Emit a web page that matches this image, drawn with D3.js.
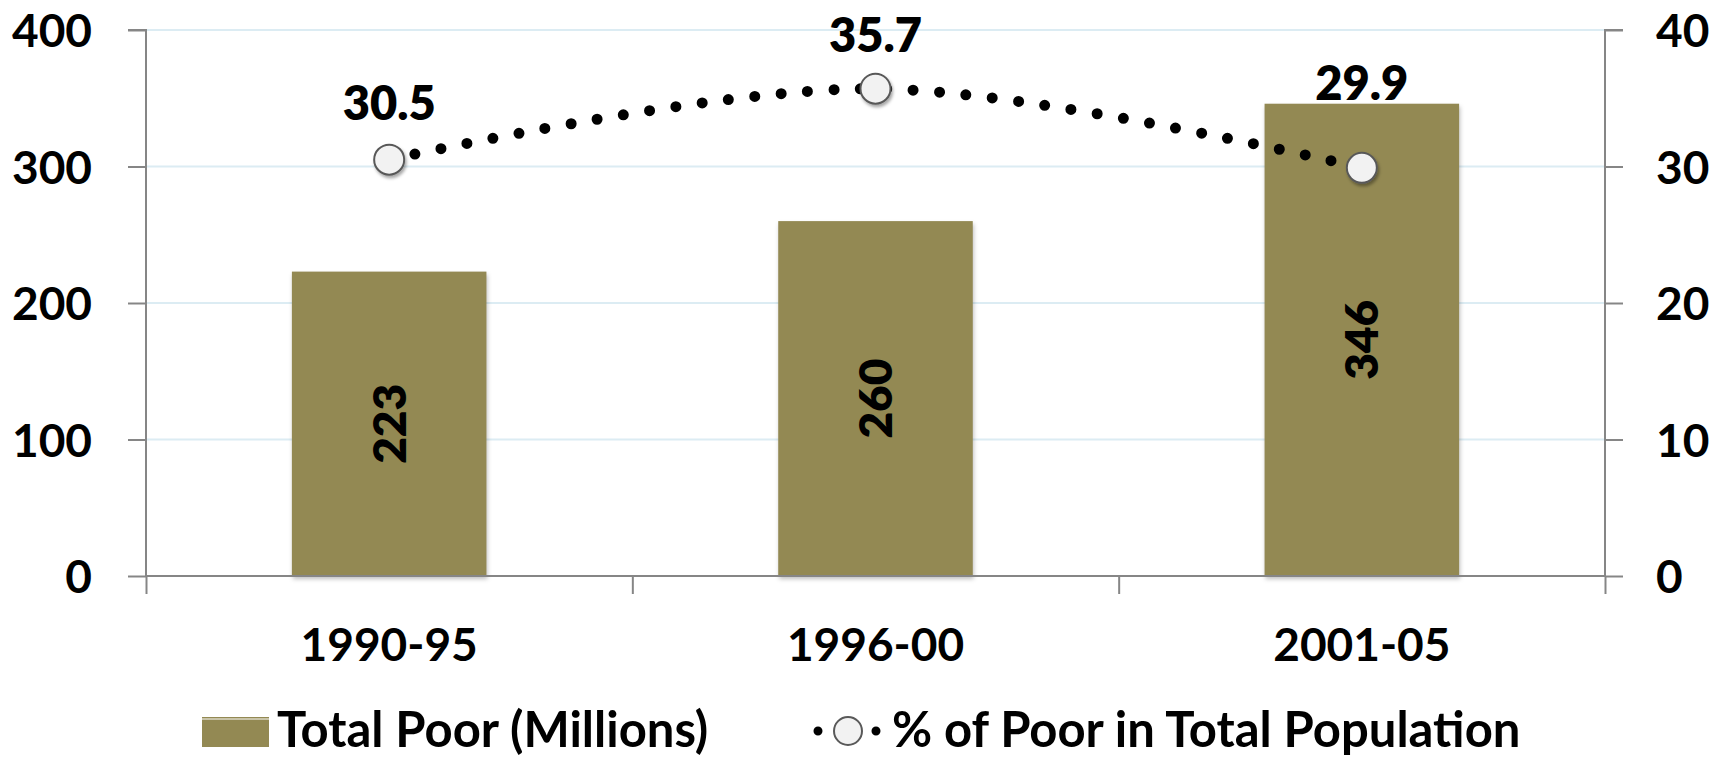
<!DOCTYPE html>
<html>
<head>
<meta charset="utf-8">
<script src="https://cdn.jsdelivr.net/npm/d3@7"></script>
<style>
  body { margin: 0; background: #fff; }
  text { font-family: Lato, "Open Sans", sans-serif; font-weight: 700; fill: #000; }
</style>
</head>
<body>
<svg id="chart" width="1722" height="758"></svg>
<script>
const periods = ["1990-95", "1996-00", "2001-05"];
const totalPoor = [223, 260, 346];
const pctPoor = [30.5, 35.7, 29.9];
const leftTicks = [0, 100, 200, 300, 400];
const rightTicks = [0, 10, 20, 30, 40];

const margin = {top: 30, right: 117, bottom: 182, left: 146},
    width = 1722 - margin.left - margin.right,
    height = 758 - margin.top - margin.bottom;

const svg = d3.select("#chart");

const defs = svg.append("defs");
const sh = defs.append("filter").attr("id", "shadow")
    .attr("x", "-50%").attr("y", "-50%").attr("width", "200%").attr("height", "200%");
sh.append("feDropShadow").attr("dx", 1.5).attr("dy", 2.5).attr("stdDeviation", 1.5)
    .attr("flood-color", "#000").attr("flood-opacity", 0.35);

const g = svg.append("g").attr("transform", `translate(${margin.left},${margin.top})`);

const x = d3.scaleBand().domain(periods).range([0, width]).paddingInner(0.6).paddingOuter(0.3);
const yL = d3.scaleLinear().domain([0, 400]).range([height, 0]);
const yR = d3.scaleLinear().domain([0, 40]).range([height, 0]);

// gridlines
g.append("g").selectAll("line")
  .data(leftTicks.slice(1))
  .join("line")
    .attr("x1", 0).attr("x2", width)
    .attr("y1", d => yL(d)).attr("y2", d => yL(d))
    .attr("stroke", "#dcecf3").attr("stroke-width", 2);

// bars
g.append("g").selectAll("rect")
  .data(periods)
  .join("rect")
    .attr("x", d => x(d))
    .attr("y", (d, i) => yL(totalPoor[i]))
    .attr("width", x.bandwidth())
    .attr("height", (d, i) => height - yL(totalPoor[i]))
    .attr("fill", "#938953")
    .style("filter", "drop-shadow(1px 3px 2px rgba(0,0,0,0.25))");

g.append("g").selectAll("text")
  .data(periods)
  .join("text")
    .attr("transform", (d, i) => `translate(${x(d) + x.bandwidth() / 2},${yL(totalPoor[i] / 2)}) rotate(-90)`)
    .attr("text-anchor", "middle")
    .attr("dy", "0.36em")
    .style("font-size", "46px")
    .style("font-weight", 800)
    .text((d, i) => totalPoor[i]);

// axes
const axisColor = "#868686";
const left = g.append("g")
  .call(d3.axisLeft(yL).tickValues(leftTicks).tickSize(18).tickPadding(36));
const right = g.append("g").attr("transform", `translate(${width},0)`)
  .call(d3.axisRight(yR).tickValues(rightTicks).tickSize(18).tickPadding(33));
const bottomScale = d3.scaleLinear().domain([0, 3]).range([0, width]);
const bottom = g.append("g").attr("transform", `translate(0,${height})`)
  .call(d3.axisBottom(bottomScale).tickValues([0, 1, 2, 3]).tickSize(18).tickFormat(""));
[left, right, bottom].forEach(a => {
  a.select(".domain").attr("stroke", axisColor).attr("stroke-width", 2);
  a.selectAll(".tick line").attr("stroke", axisColor).attr("stroke-width", 2);
  a.selectAll(".tick text").style("font-size", "46px").attr("fill", "#000").attr("dy", "0.36em");
});
left.select(".domain").attr("d", `M-18,0H0V${height}`);
right.select(".domain").attr("d", `M18,0H0V${height}`);
bottom.select(".domain").attr("d", `M0,0H${width}`);

// category labels
g.append("g").selectAll("text")
  .data(periods)
  .join("text")
    .attr("x", d => x(d) + x.bandwidth() / 2)
    .attr("y", height + 68)
    .attr("dy", "0.36em")
    .attr("text-anchor", "middle")
    .style("font-size", "46px")
    .text(d => d);

// dotted smooth line
const line = d3.line()
  .x((d, i) => x(periods[i]) + x.bandwidth() / 2)
  .y(d => yR(d))
  .curve(d3.curveCardinal.tension(0));
g.append("path")
  .datum(pctPoor)
  .attr("d", line)
  .attr("fill", "none")
  .attr("stroke", "#000")
  .attr("stroke-width", 11)
  .attr("stroke-linecap", "round")
  .attr("stroke-dasharray", "0 26.5");

g.append("g").selectAll("circle")
  .data(pctPoor)
  .join("circle")
    .attr("cx", (d, i) => x(periods[i]) + x.bandwidth() / 2)
    .attr("cy", d => yR(d))
    .attr("r", 15)
    .attr("fill", "#f2f2f2")
    .attr("stroke", "#595959")
    .attr("stroke-width", 2)
    .attr("filter", "url(#shadow)");

const labelOffsets = [-57, -54, -85];
g.append("g").selectAll("text")
  .data(pctPoor)
  .join("text")
    .attr("x", (d, i) => x(periods[i]) + x.bandwidth() / 2)
    .attr("y", (d, i) => yR(d) + labelOffsets[i])
    .attr("dy", "0.36em")
    .attr("text-anchor", "middle")
    .style("font-size", "47px")
    .style("font-weight", 800)
    .text(d => d.toFixed(1));

// legend
const leg = svg.append("g").attr("transform", "translate(0,729)");
leg.append("rect").attr("x", 202).attr("y", -12).attr("width", 67).attr("height", 30).attr("fill", "#938953");
leg.append("line").attr("x1", 202).attr("x2", 269).attr("y1", -10).attr("y2", -10)
  .attr("stroke", "#fff").attr("stroke-width", 1);
leg.append("text").attr("x", 277).attr("dy", "0.36em").style("font-size", "49px").text("Total Poor (Millions)");

leg.append("path").attr("d", "M818,2H877")
  .attr("fill", "none").attr("stroke", "#000").attr("stroke-width", 9)
  .attr("stroke-linecap", "round").attr("stroke-dasharray", "0 29");
leg.append("circle").attr("cx", 848).attr("cy", 2).attr("r", 14)
  .attr("fill", "#f2f2f2").attr("stroke", "#595959").attr("stroke-width", 2);
leg.append("text").attr("x", 892).attr("dy", "0.36em").style("font-size", "49px").text("% of Poor in Total Population");
</script>
</body>
</html>
